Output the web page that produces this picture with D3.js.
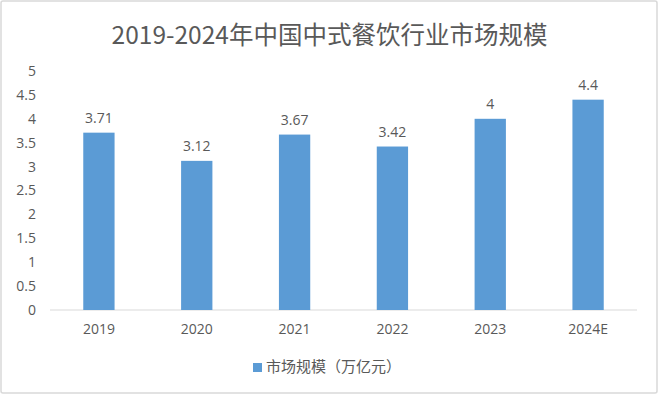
<!DOCTYPE html>
<meta charset="utf-8">
<script src="https://d3js.org/d3.v7.min.js"></script>
<style>
  body { margin: 0; background: #fff; }
  text { font-family: "Noto Sans CJK SC", "Open Sans", sans-serif; fill: #595959; }
</style>
<div id="my_dataviz"></div>
<script>

    // data
    var years = ["2019", "2020", "2021", "2022", "2023", "2024E"];
    var values = [3.71, 3.12, 3.67, 3.42, 4, 4.4];
    var yTicks = [0, 0.5, 1, 1.5, 2, 2.5, 3, 3.5, 4, 4.5, 5];
    var seriesName = "市场规模（万亿元）";
    var title = "2019-2024年中国中式餐饮行业市场规模";

    var W = 659, H = 395;
    var margin = {top: 71, right: 22, bottom: 85, left: 50},
        width = W - margin.left - margin.right,
        height = H - margin.top - margin.bottom;

    var root = d3.select("#my_dataviz")
      .append("svg")
        .attr("width", W)
        .attr("height", H);

    // outer frame
    root.append("rect")
      .attr("x", 1).attr("y", 1)
      .attr("width", W - 3).attr("height", H - 3)
      .attr("rx", 2)
      .style("fill", "#fff")
      .style("stroke", "#d9d9d9")
      .style("stroke-width", 1.5);

    // title
    root.append("text")
      .attr("x", W / 2)
      .attr("y", 44)
      .attr("text-anchor", "middle")
      .style("font-size", "24.5px")
      .text(title);

    var svg = root.append("g")
      .attr("transform", "translate(" + margin.left + "," + margin.top + ")");

    var x = d3.scaleBand()
      .domain(years)
      .range([0, width])
      .paddingInner(0.68)
      .paddingOuter(0.34);

    var y = d3.scaleLinear()
      .domain([0, 5])
      .range([height, 0]);

    // X axis
    var xAxis = svg.append("g")
      .attr("transform", "translate(0," + height + ")")
      .call(d3.axisBottom(x).tickSize(0).tickPadding(14));
    xAxis.select(".domain").attr("stroke", "#d9d9d9").attr("d", "M0,0H" + width);
    xAxis.selectAll("text").style("font-size", "14px").style("font-family", "Open Sans, sans-serif");

    // Y axis (labels only)
    var yAxis = svg.append("g")
      .call(d3.axisLeft(y).tickValues(yTicks).tickSize(0).tickPadding(14).tickFormat(d3.format("")));
    yAxis.select(".domain").remove();
    yAxis.selectAll("text").style("font-size", "14px").style("font-family", "Open Sans, sans-serif");

    // bars
    svg.selectAll("myBars")
      .data(values)
      .enter()
      .append("rect")
        .attr("x", function(d, i) { return x(years[i]); })
        .attr("y", function(d) { return y(d); })
        .attr("width", x.bandwidth())
        .attr("height", function(d) { return height - y(d); })
        .style("fill", "#5b9bd5");

    // value labels
    svg.selectAll("myLabels")
      .data(values)
      .enter()
      .append("text")
        .attr("x", function(d, i) { return x(years[i]) + x.bandwidth() / 2; })
        .attr("y", function(d) { return y(d) - 10; })
        .attr("text-anchor", "middle")
        .style("font-size", "14px")
        .style("font-family", "Open Sans, sans-serif")
        .text(function(d) { return d; });

    // legend
    root.append("rect")
      .attr("x", 253).attr("y", 363)
      .attr("width", 9).attr("height", 9)
      .style("fill", "#5b9bd5");
    root.append("text")
      .attr("x", 266)
      .attr("y", 368)
      .attr("dominant-baseline", "middle")
      .style("font-size", "15px")
      .text(seriesName);

</script>
